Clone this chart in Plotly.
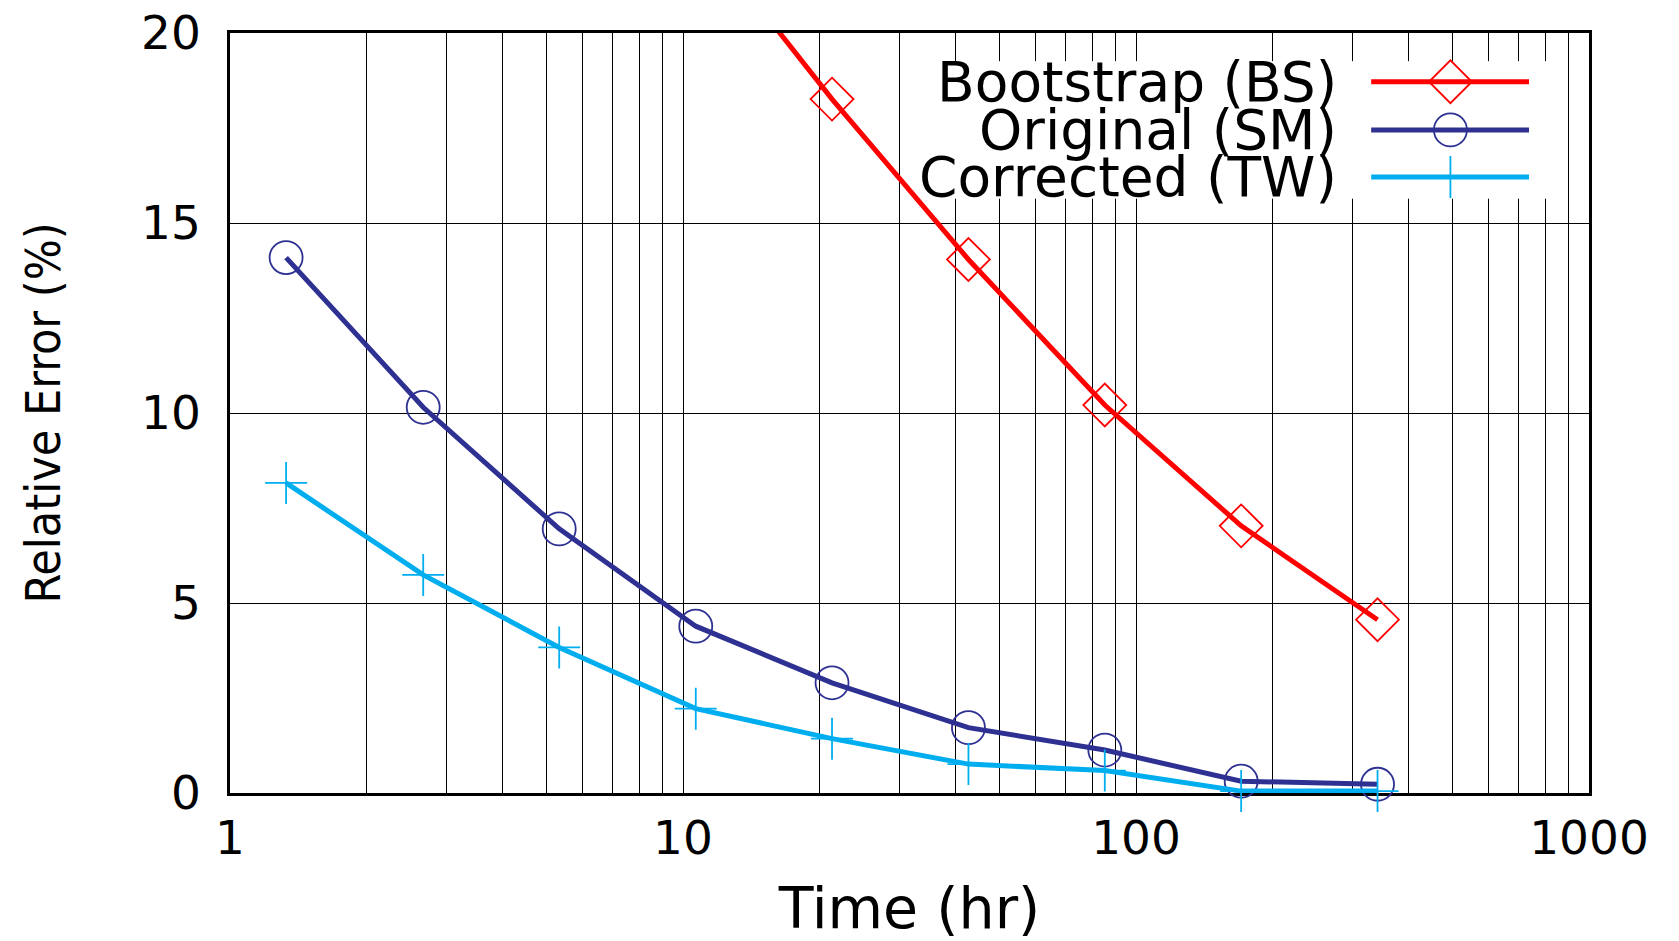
import plotly.graph_objects as go

# ---- data ----
time_hr = [1.33, 2.67, 5.33, 10.67, 21.33, 42.67, 85.33, 170.67, 341.33]
bs_time = [10.67, 21.33, 42.67, 85.33, 170.67, 341.33]
bs_err = [22.8, 18.26, 14.04, 10.21, 7.03, 4.56]
sm_err = [14.09, 10.15, 6.95, 4.39, 2.90, 1.72, 1.13, 0.31, 0.23]
tw_err = [8.16, 5.74, 3.83, 2.22, 1.43, 0.76, 0.59, 0.05, 0.05]

x_tickvals = [1, 10, 100, 1000]
x_ticktext = ["1", "10", "100", "1000"]
y_tickvals = [0, 5, 10, 15, 20]
minor_vals = [m * d for d in (1, 10, 100) for m in range(2, 10)]

series_names = ["Bootstrap (BS)", "Original (SM)", "Corrected (TW)"]
colors = ["#FF0000", "#2E3192", "#00AEEF"]
symbols = ["diamond-open", "circle-open", "cross-thin-open"]
msizes = [33, 33, 30]

TICKFONT = dict(family="DejaVu Sans", size=47, color="black")
TITLEFONT = dict(family="DejaVu Sans Condensed, DejaVu Sans", size=48, color="black")
LEGFONT = dict(family="DejaVu Sans", size=55, color="black")

fig = go.Figure()

fig.add_trace(go.Scatter(x=bs_time, y=bs_err, mode="lines+markers",
                         line=dict(color=colors[0], width=5),
                         marker=dict(symbol=symbols[0], size=msizes[0], color=colors[0],
                                     line=dict(width=1.8, color=colors[0])),
                         showlegend=False))
fig.add_trace(go.Scatter(x=time_hr, y=sm_err, mode="lines+markers",
                         line=dict(color=colors[1], width=5),
                         marker=dict(symbol=symbols[1], size=msizes[1], color=colors[1],
                                     line=dict(width=1.8, color=colors[1])),
                         cliponaxis=False, showlegend=False))
fig.add_trace(go.Scatter(x=time_hr, y=tw_err, mode="lines+markers",
                         line=dict(color=colors[2], width=5),
                         marker=dict(symbol=symbols[2], size=msizes[2], color=colors[2],
                                     line=dict(width=1.8, color=colors[2])),
                         cliponaxis=False, showlegend=False))

# ---- custom legend: a white-backed inset subplot (text left, sample right) ----
leg_rows = [0.85, 0.5, 0.157]
for name, col, sym, ms, ry in zip(series_names, colors, symbols, msizes, leg_rows):
    fig.add_trace(go.Scatter(x=[0.71, 0.959], y=[ry, ry], mode="lines", xaxis="x2", yaxis="y2",
                             line=dict(color=col, width=5), showlegend=False, hoverinfo="skip",
                             cliponaxis=False))
    fig.add_trace(go.Scatter(x=[0.835], y=[ry], mode="markers", xaxis="x2", yaxis="y2",
                             marker=dict(symbol=sym, size=ms, color=col, line=dict(width=1.8, color=col)),
                             showlegend=False, hoverinfo="skip", cliponaxis=False))
    fig.add_annotation(text=name, xref="x2", yref="y2", x=0.66, y=ry,
                       xanchor="right", yanchor="middle", showarrow=False, font=LEGFONT)

fig.update_layout(
    width=1663, height=933,
    margin=dict(l=222, r=82, t=25, b=148),
    paper_bgcolor="white", plot_bgcolor="white",
    xaxis=dict(type="log", range=[0, 3], tickvals=x_tickvals, ticktext=x_ticktext,
               showgrid=True, gridcolor="black", gridwidth=1.3,
               minor=dict(tickvals=minor_vals, showgrid=True, gridcolor="black", gridwidth=1.3,
                          ticks=""),
               showline=True, linecolor="black", linewidth=2.5, mirror=True,
               ticks="", ticklabelstandoff=2, tickfont=TICKFONT, layer="below traces",
               zeroline=False, automargin=False, ticklabeloverflow="allow",
               title=dict(text="Time (hr)", font=dict(family="DejaVu Sans", size=57, color="black"),
                          standoff=37)),
    yaxis=dict(range=[0, 20], tickvals=y_tickvals,
               showgrid=True, gridcolor="black", gridwidth=1.3,
               showline=True, linecolor="black", linewidth=2.5, mirror=True,
               ticks="", ticklabelstandoff=17, tickfont=TICKFONT, layer="below traces",
               zeroline=False, automargin=False, ticklabeloverflow="allow",
               title=dict(text="Relative Error (%)", font=TITLEFONT, standoff=66)),
    xaxis2=dict(domain=[0.5085, 0.975], range=[0, 1], visible=False, anchor="y2",
                showgrid=False, zeroline=False, automargin=False),
    yaxis2=dict(domain=[0.782, 0.963], range=[0, 1], visible=False, anchor="x2",
                showgrid=False, zeroline=False, automargin=False),
)

fig.write_html("out.html")
